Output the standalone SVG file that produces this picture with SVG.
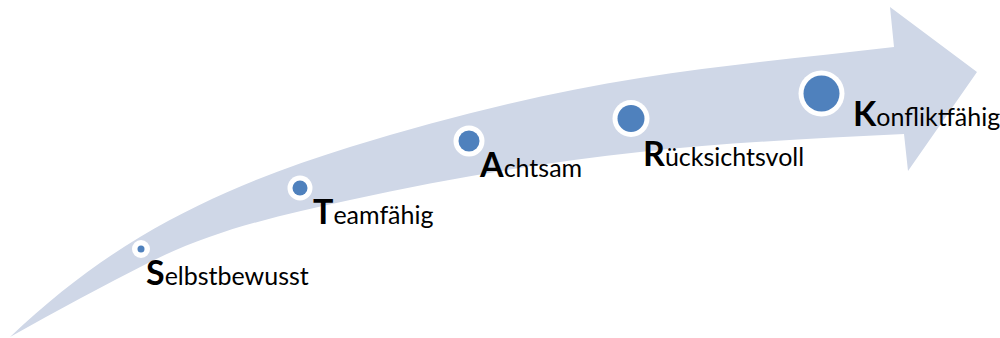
<svg xmlns="http://www.w3.org/2000/svg" width="1000" height="338" viewBox="0 0 1000 338">
<style>
.lbl{font-family:Lato,"Open Sans","Liberation Sans",sans-serif;font-size:25px;fill:#000}
.big{font-size:34px;font-weight:bold}
.ring{fill:#fff}
.dot{fill:#4F81BD}
</style>
<rect width="1000" height="338" fill="#fff"/>
<g id="connectors">
<path id="arrow" fill="#CFD7E7" d="M10,337 C53.3,295.9 96.7,263 140,237 C210,195 280,168.7 350,147 C446.7,117 543.3,93.5 640,78 C724.3,64.5 808.7,57.1 894,47 L890,7 L977,72 L908,171 L904,134 C816,138.4 728,142.3 640,152 C543.3,162.6 446.7,178.7 350,200 C283.3,214.7 216.7,228.7 150,262 C103.3,285.3 56.7,310.9 10,337 Z"/>
</g>
<g id="node-s">
<circle class="ring" cx="141" cy="249" r="9"/>
<circle class="dot" cx="141" cy="249" r="3.5"/>
<text class="lbl" x="146" y="285"><tspan class="big">S</tspan>elbstbewusst</text>
</g>
<g id="node-t">
<circle class="ring" cx="300" cy="188" r="12.5"/>
<circle class="dot" cx="300" cy="188" r="7.5"/>
<text class="lbl" x="313" y="224"><tspan class="big">T</tspan>eamfähig</text>
</g>
<g id="node-a">
<circle class="ring" cx="469" cy="141" r="15.5"/>
<circle class="dot" cx="469" cy="141" r="10.5"/>
<text class="lbl" x="480" y="176.5"><tspan class="big">A</tspan>chtsam</text>
</g>
<g id="node-r">
<circle class="ring" cx="631" cy="118.5" r="18.5"/>
<circle class="dot" cx="631" cy="118.5" r="13.5"/>
<text class="lbl" x="643" y="165.5"><tspan class="big">R</tspan>ücksichtsvoll</text>
</g>
<g id="node-k">
<circle class="ring" cx="821.5" cy="93.5" r="23"/>
<circle class="dot" cx="821.5" cy="93.5" r="18"/>
<text class="lbl" x="853" y="126"><tspan class="big">K</tspan>onfliktfähig</text>
</g>
</svg>
